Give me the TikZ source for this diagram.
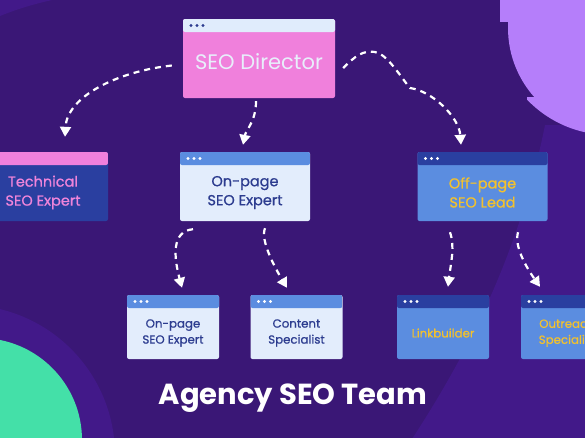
\documentclass[tikz,border=0pt]{standalone}
\usepackage{fontspec}
\setmainfont{Poppins}
\newfontfamily\popmid[FakeBold=0.8]{Poppins}
\usetikzlibrary{arrows.meta}

\definecolor{bgpurple}{HTML}{3A1776}
\definecolor{bglight}{HTML}{421989}
\definecolor{lilac}{HTML}{B57EFA}
\definecolor{mint}{HTML}{44E0A8}
\definecolor{pinkbox}{HTML}{F080DC}
\definecolor{headlight}{HTML}{E0ECFC}
\definecolor{bodylight}{HTML}{E3EDFC}
\definecolor{midblue}{HTML}{5B8DE0}
\definecolor{deepblue}{HTML}{2A3FA0}
\definecolor{navytext}{HTML}{2C3C8F}
\definecolor{goldtext}{HTML}{F2C12E}
\definecolor{pinktext}{HTML}{EF84DA}
\definecolor{softwhite}{HTML}{E8EEFB}

\begin{document}
\begin{tikzpicture}[x=1pt, y=-1pt,
    win/.style n args={3}{rounded corners=2pt, inner sep=0pt, fill=#2,
      path picture={
        \fill[#1] (path picture bounding box.north west) rectangle ([yshift=-13pt]path picture bounding box.north east);
        \foreach \d in {8,14,20}
          \fill[#3] ([shift={(\d pt,-6.5pt)}]path picture bounding box.north west) circle (1.6pt);
      }},
    bigwin/.style={minimum width=130pt, minimum height=69pt},
    smallwin/.style={minimum width=92pt, minimum height=64pt},
    boxtext/.style={align=center, yshift=-6pt, inner sep=0pt},
    bigfont/.style={font=\popmid\fontsize{14.5}{19}\selectfont},
    smallfont/.style={font=\popmid\fontsize{11.8}{16}\selectfont},
    flow/.style={white, line width=2.2pt, dash pattern=on 6pt off 5pt, -{Triangle[width=11pt,length=10pt]}}
  ]
  \useasboundingbox (0,0) rectangle (585,437);

  % Background
  \fill[bgpurple] (-2,-2) rectangle (587,439);
  \fill[bglight] (0,0) -- (52,0) .. controls (30,5) and (15,10) .. (0,16) -- cycle;
  \fill[bglight] (545,125) .. controls (520,250) and (470,350) .. (412,439) -- (587,439) -- (587,125) -- cycle;
  \fill[bglight] (-35,455) circle (150);
  \fill[mint] (-20,440) circle (102);
  \fill[lilac] (612,28) circle (104);
  \fill[lilac] (500,-2) rectangle (587,22);
  \begin{scope}
    \clip (527,97) rectangle (587,140);
    \fill[lilac] (610,20) circle (115);
  \end{scope}

  % Boxes
  \node[win={headlight}{pinkbox}{navytext}, minimum width=152pt, minimum height=79pt,
    label={[boxtext, yshift=2.5pt, name=director-t, text=softwhite, font=\fontsize{21}{25}\selectfont]center:SEO Director}]
    (director) at (259,58.5) {};

  \node[win={pinkbox}{deepblue}{white}, bigwin,
    label={[boxtext, bigfont, name=tech-t, text=pinktext]center:{Technical\\SEO Expert}}]
    (tech) at (43,186.5) {};
  \node[win={midblue}{bodylight}{white}, bigwin,
    label={[boxtext, bigfont, name=onpage-t, text=navytext]center:{On-page\\SEO Expert}}]
    (onpage) at (245,186.5) {};
  \node[win={deepblue}{midblue}{white}, bigwin,
    label={[boxtext, bigfont, name=offpage-t, text=goldtext]center:{Off-page\\SEO Lead}}]
    (offpage) at (482.5,186.5) {};

  \node[win={midblue}{bodylight}{white}, smallwin,
    label={[boxtext, smallfont, name=expert-t, text=navytext]center:{On-page\\SEO Expert}}]
    (expert) at (173,327) {};
  \node[win={midblue}{bodylight}{white}, smallwin,
    label={[boxtext, smallfont, name=content-t, text=navytext]center:{Content\\Specialist}}]
    (content) at (296.5,327) {};
  \node[win={deepblue}{midblue}{white}, smallwin,
    label={[boxtext, smallfont, name=linkb-t, text=goldtext]center:Linkbuilder}]
    (linkb) at (443,327) {};
  \node[win={deepblue}{midblue}{white}, smallwin,
    label={[boxtext, smallfont, name=outreach-t, text=goldtext]center:{Outreach\\Specialist}}]
    (outreach) at (567,327) {};

  % Dashed links
  \draw[flow] ([shift={(-11pt,-7pt)}]director.west) .. controls +(-55,6) and +(2,-40) .. ([shift={(22pt,15pt)}]tech.north);
  \draw[flow] ([shift={(-3pt,-3pt)}]director.south) .. controls +(0,20) and +(3,-15) .. ([shift={(-2pt,7pt)}]onpage.north);
  \draw[flow] ([shift={(8pt,-9.5pt)}]director.east) .. controls +(12,-12) and +(-12,-2) .. (375,52)
    .. controls +(12,2) and +(-10,-12) .. (410,88)
    .. controls +(22,3) and +(-2,-28) .. ([shift={(-21.5pt,7pt)}]offpage.north);

  \draw[flow] ([shift={(-52pt,-8pt)}]onpage.south) .. controls +(-22,2) and +(-8,-30) .. ([shift={(9pt,7pt)}]expert.north);
  \draw[flow] ([shift={(20pt,-7pt)}]onpage.south) .. controls +(-5,12) and +(-12,-20) .. ([shift={(-9.5pt,7pt)}]content.north);
  \draw[flow] ([shift={(-32.5pt,-11pt)}]offpage.south) .. controls +(5,15) and +(3,-25) .. ([shift={(5pt,8pt)}]linkb.north);
  \draw[flow] ([shift={(35.5pt,-11pt)}]offpage.south) .. controls +(-4,14) and +(-14,-20) .. ([shift={(-27pt,8pt)}]outreach.north);

  % Title
  \node[white, font=\fontsize{29}{34}\selectfont\bfseries] (title) at (293,398) {Agency SEO Team};
\end{tikzpicture}
\end{document}
